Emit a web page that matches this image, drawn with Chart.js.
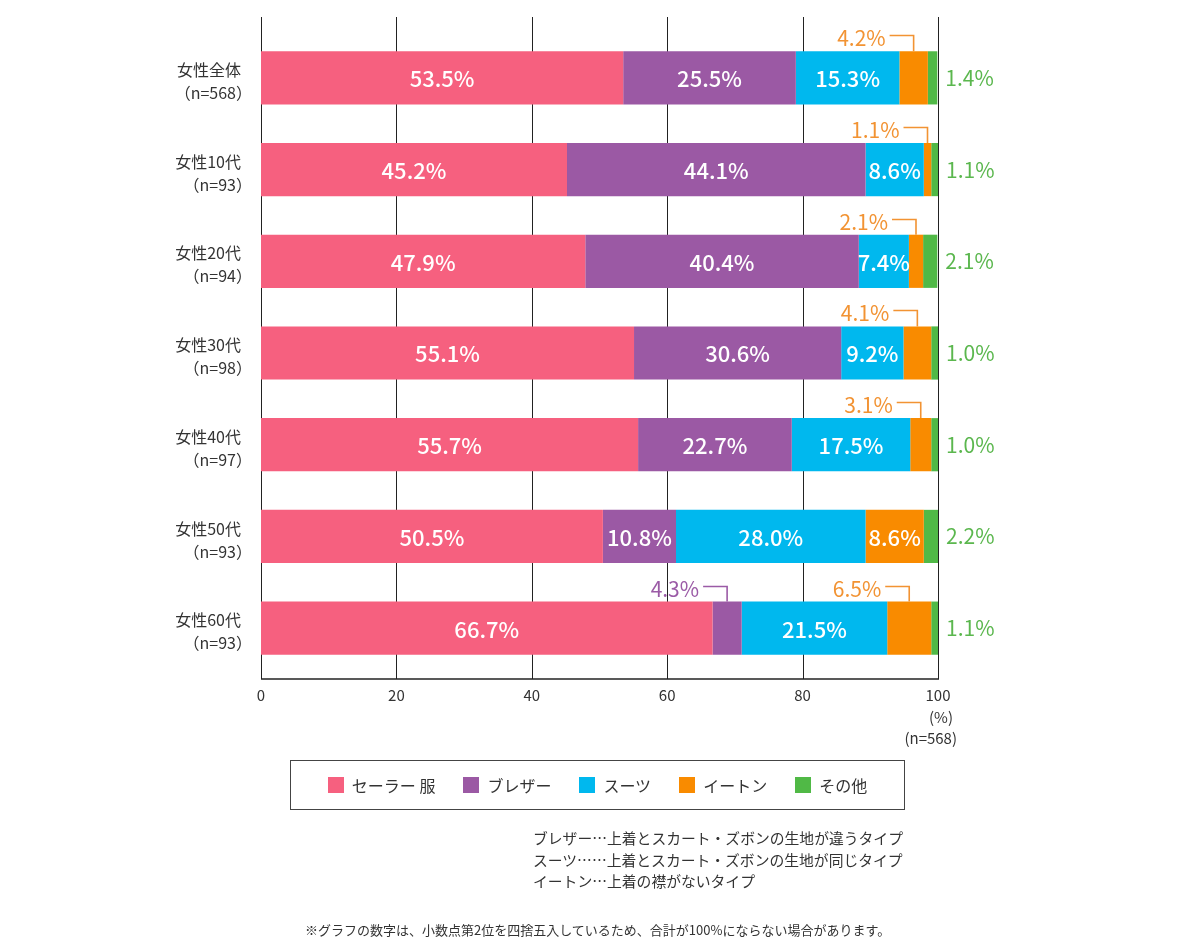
<!DOCTYPE html>
<html lang="ja">
<head>
<meta charset="utf-8">
<script src="https://cdn.jsdelivr.net/npm/chart.js@4/dist/chart.umd.min.js"></script>
<style>
  html, body { margin: 0; padding: 0; background: #fff; }
  #wrap { position: relative; width: 1200px; height: 951px; font-family: "Noto Sans CJK JP", "Noto Sans", sans-serif; color: #333; }
  #c { position: absolute; left: 0; top: 0; }
  #legend { position: absolute; left: 290px; top: 760px; width: 613px; height: 48px; border: 1.5px solid #444;
            display: flex; align-items: center; justify-content: center; gap: 28px; font-size: 16px; }
  #legend .item { display: flex; align-items: center; gap: 8px; }
  #legend .sw { width: 16px; height: 16px; display: inline-block; }
  #notes { position: absolute; left: 533px; top: 827px; font-size: 14.8px; line-height: 21.5px; white-space: nowrap; }
  #foot { position: absolute; left: 305px; top: 920px; font-size: 13px; white-space: nowrap; }
</style>
</head>
<body>
<div id="wrap">
  <canvas id="c" width="1200" height="951"></canvas>
  <div id="legend"></div>
  <div id="notes"></div>
  <div id="foot"></div>
</div>
<script>
// ---- data ----
const categories = ['女性全体', '女性10代', '女性20代', '女性30代', '女性40代', '女性50代', '女性60代'];
const sampleSizes = ['（n=568）', '（n=93）', '（n=94）', '（n=98）', '（n=97）', '（n=93）', '（n=93）'];
const seriesNames = ['セーラー 服', 'ブレザー', 'スーツ', 'イートン', 'その他'];
const sailor = [53.5, 45.2, 47.9, 55.1, 55.7, 50.5, 66.7];
const blazer = [25.5, 44.1, 40.4, 30.6, 22.7, 10.8, 4.3];
const suit   = [15.3, 8.6, 7.4, 9.2, 17.5, 28.0, 21.5];
const eton   = [4.2, 1.1, 2.1, 4.1, 3.1, 8.6, 6.5];
const other  = [1.4, 1.1, 2.1, 1.0, 1.0, 2.2, 1.1];
const xTicks = [0, 20, 40, 60, 80, 100];
const axisUnit = '(%)';
const axisN = '(n=568)';
const notes = [
  'ブレザー…上着とスカート・ズボンの生地が違うタイプ',
  'スーツ……上着とスカート・ズボンの生地が同じタイプ',
  'イートン…上着の襟がないタイプ'
];
const footnote = '※グラフの数字は、小数点第2位を四捨五入しているため、合計が100%にならない場合があります。';

// ---- styles ----
const fillColors = ['#F6607F', '#9B59A4', '#00B8EE', '#F98B00', '#50B946'];
const textColors = ['#F6607F', '#9B5BA6', '#00B8EE', '#F29333', '#5BB74E'];
const FONT = '"Noto Sans CJK JP", "Noto Sans", sans-serif';

const seriesValues = [sailor, blazer, suit, eton, other];

const labelPlugin = {
  id: 'labels',
  beforeDatasetsDraw(chart) {
    const ctx = chart.ctx, a = chart.chartArea, xs = chart.scales.x, ys = chart.scales.y;
    ctx.save();
    ctx.strokeStyle = '#222';
    ctx.lineWidth = 1;
    const top = a.top - 15, bottom = a.bottom + 5;
    xTicks.forEach(t => {
      const px = Math.round(xs.getPixelForValue(t)) + 0.5;
      ctx.beginPath(); ctx.moveTo(px, top); ctx.lineTo(px, bottom); ctx.stroke();
    });
    ctx.lineWidth = 1.5;
    ctx.beginPath();
    ctx.moveTo(xs.getPixelForValue(0), bottom);
    ctx.lineTo(xs.getPixelForValue(100) + 1, bottom);
    ctx.stroke();
    // category labels (two lines)
    ctx.fillStyle = '#333';
    ctx.font = '400 16px ' + FONT;
    ctx.textAlign = 'right'; ctx.textBaseline = 'middle';
    const lx = xs.getPixelForValue(0) - 20;
    categories.forEach((c, i) => {
      const py = ys.getPixelForValue(i);
      ctx.fillText(c, lx, py - 8);
      ctx.fillText(sampleSizes[i], lx + 11, py + 15);
    });
    ctx.restore();
  },
  afterDatasetsDraw(chart) {
    const ctx = chart.ctx, a = chart.chartArea, xs = chart.scales.x;
    ctx.save();
    chart.data.datasets.forEach((ds, di) => {
      const meta = chart.getDatasetMeta(di);
      meta.data.forEach((el, i) => {
        const v = ds.data[i];
        const txt = v.toFixed(1) + '%';
        const x0 = Math.min(el.x, el.base), x1 = Math.max(el.x, el.base);
        const w = x1 - x0;
        const cx = (x0 + x1) / 2;
        const barTop = el.y - el.height / 2;
        if (di === 4) {
          ctx.fillStyle = textColors[di];
          ctx.font = '400 21px ' + FONT;
          ctx.textAlign = 'left'; ctx.textBaseline = 'middle';
          ctx.fillText(txt, Math.min(x1, a.right) + 8, el.y);
        } else if (w >= 47) {
          ctx.fillStyle = '#fff';
          ctx.font = '500 22px ' + FONT;
          ctx.textAlign = 'center'; ctx.textBaseline = 'middle';
          ctx.fillText(txt, cx, el.y + 1);
        } else {
          const lineY = Math.round(barTop - 16) + 0.5;
          ctx.strokeStyle = textColors[di];
          ctx.lineWidth = 1.6;
          ctx.beginPath();
          ctx.moveTo(cx - 24, lineY); ctx.lineTo(cx, lineY); ctx.lineTo(cx, barTop);
          ctx.stroke();
          ctx.fillStyle = textColors[di];
          ctx.font = '400 21px ' + FONT;
          ctx.textAlign = 'right'; ctx.textBaseline = 'middle';
          ctx.fillText(txt, cx - 28, lineY + 3);
        }
      });
    });
    // axis unit text
    ctx.fillStyle = '#333';
    ctx.font = '400 15px ' + FONT;
    ctx.textAlign = 'right'; ctx.textBaseline = 'middle';
    const rx = xs.getPixelForValue(100) + 19;
    ctx.fillText(axisUnit, rx - 4, a.bottom + 43);
    ctx.fillText(axisN, rx, a.bottom + 64);
    ctx.restore();
  }
};

new Chart(document.getElementById('c'), {
  type: 'bar',
  data: {
    labels: categories,
    datasets: seriesValues.map((vals, i) => ({
      label: seriesNames[i],
      data: vals,
      backgroundColor: fillColors[i],
      borderWidth: 0,
      barPercentage: 0.58,
      categoryPercentage: 1
    }))
  },
  options: {
    indexAxis: 'y',
    responsive: false,
    animation: false,
    layout: { padding: { top: 32, right: 262, bottom: 237, left: 0 } },
    scales: {
      x: {
        stacked: true, min: 0, max: 100,
        afterBuildTicks: s => { s.ticks = xTicks.map(v => ({ value: v })); },
        afterFit: s => { s.height = 40; },
        grid: { display: false, drawTicks: false }, border: { display: false },
        ticks: { color: '#333', font: { family: FONT, size: 15 }, padding: 12, maxRotation: 0 }
      },
      y: {
        stacked: true,
        afterFit: s => { s.width = 261; },
        grid: { display: false, drawTicks: false }, border: { display: false },
        ticks: { display: false }
      }
    },
    plugins: { legend: { display: false }, tooltip: { enabled: false } }
  },
  plugins: [labelPlugin]
});

// HTML legend & notes
const lg = document.getElementById('legend');
seriesNames.forEach((n, i) => {
  const it = document.createElement('span'); it.className = 'item';
  const sw = document.createElement('span'); sw.className = 'sw'; sw.style.background = fillColors[i];
  const tx = document.createElement('span'); tx.textContent = n;
  it.appendChild(sw); it.appendChild(tx); lg.appendChild(it);
});
document.getElementById('notes').innerHTML = notes.map(t => '<div>' + t + '</div>').join('');
document.getElementById('foot').textContent = footnote;
</script>
</body>
</html>
